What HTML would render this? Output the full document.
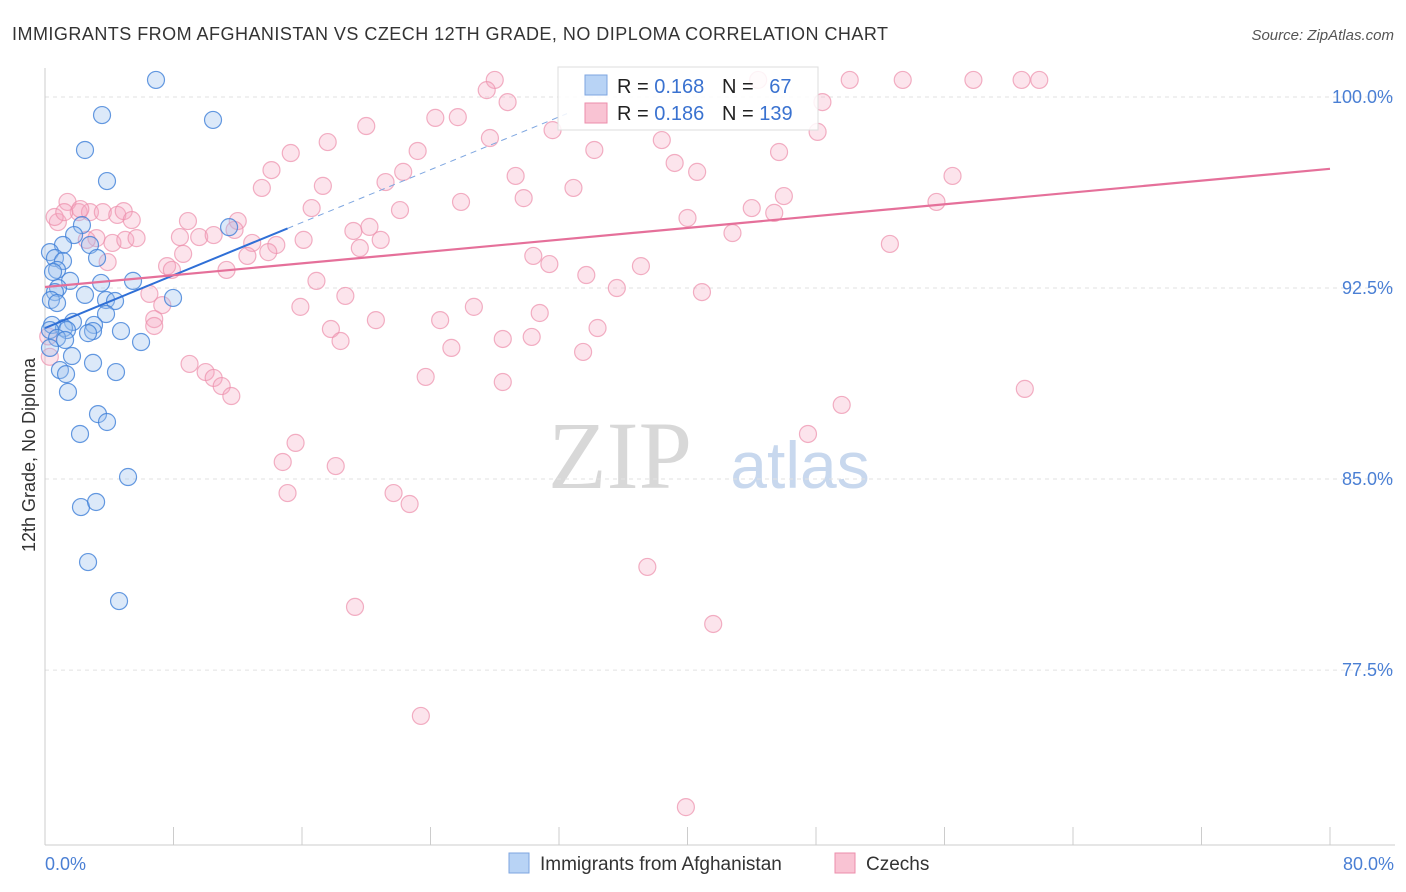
<!DOCTYPE html>
<html><head><meta charset="utf-8"><style>
body{margin:0;background:#fff;font-family:"Liberation Sans",sans-serif;}
#wrap{position:relative;width:1406px;height:892px;overflow:hidden;}
</style></head><body>
<div id="wrap">
<svg id="svg" width="1406" height="892" xmlns="http://www.w3.org/2000/svg">
<text x="12" y="40" font-size="18" fill="#333" textLength="876" lengthAdjust="spacing">IMMIGRANTS FROM AFGHANISTAN VS CZECH 12TH GRADE, NO DIPLOMA CORRELATION CHART</text>
<text x="1394" y="40" font-size="15" fill="#555" font-style="italic" text-anchor="end">Source: ZipAtlas.com</text>
<text x="620" y="488" font-size="96" fill="#d8d8d8" font-family="Liberation Serif,serif" text-anchor="middle">ZIP</text>
<text x="800" y="488" font-size="66" fill="#c8d8ee" text-anchor="middle">atlas</text>
<text transform="translate(35,455) rotate(-90)" font-size="18" fill="#333" text-anchor="middle">12th Grade, No Diploma</text>
<text x="45" y="870" font-size="18" fill="#4a7fd4">0.0%</text>
<text x="1394" y="870" font-size="18" fill="#4a7fd4" text-anchor="end">80.0%</text>
<g id="grid"></g><g id="pts"></g><g id="lines"></g>
<g>
<rect x="558" y="67" width="260" height="63" fill="#fff" fill-opacity="0.85" stroke="#ddd"/>
<rect x="585" y="75" width="22" height="20" fill="#b8d3f5" stroke="#7ea6e0"/>
<rect x="585" y="103" width="22" height="20" fill="#f9c3d3" stroke="#ec8eab"/>
<text x="617" y="93" font-size="20" fill="#222">R = <tspan fill="#3a72d0">0.168</tspan></text>
<text x="722" y="93" font-size="20" fill="#222">N = <tspan fill="#3a72d0" dx="10">67</tspan></text>
<text x="617" y="120" font-size="20" fill="#222">R = <tspan fill="#3a72d0">0.186</tspan></text>
<text x="722" y="120" font-size="20" fill="#222">N = <tspan fill="#3a72d0">139</tspan></text>
</g>
<g>
<rect x="509" y="853" width="20" height="20" fill="#b8d3f5" stroke="#7ea6e0"/>
<text x="540" y="870" font-size="19" fill="#333">Immigrants from Afghanistan</text>
<rect x="835" y="853" width="20" height="20" fill="#f9c3d3" stroke="#ec8eab"/>
<text x="866" y="870" font-size="19" fill="#333">Czechs</text>
</g>
</svg>
</div>
<script>
const yTicks=[100,92.5,85,77.5];
const yTickLabels=["100.0%","92.5%","85.0%","77.5%"];
const xTicks=[0,8,16,24,32,40,48,56,64,72,80];
const blueX=[6.91,3.55,10.46,2.49,3.86,2.30,11.46,1.81,1.12,2.80,0.31,3.24,0.62,1.12,0.75,0.50,1.56,5.48,3.49,0.81,2.49,0.62,0.37,7.97,3.80,4.36,0.75,3.80,0.44,1.74,3.05,1.18,0.31,4.73,2.99,2.68,1.37,0.75,5.98,1.25,0.31,1.68,2.99,0.93,4.42,1.31,1.43,3.30,3.86,2.18,5.17,2.24,3.18,2.68,4.61];
const blueY=[100.67,99.29,99.10,97.92,96.70,94.97,94.89,94.58,94.19,94.19,93.91,93.68,93.68,93.56,93.21,93.13,92.78,92.78,92.70,92.50,92.23,92.34,92.03,92.11,92.03,91.99,91.91,91.48,91.05,91.17,91.05,90.93,90.85,90.81,90.81,90.73,90.85,90.54,90.38,90.46,90.15,89.83,89.56,89.28,89.20,89.12,88.42,87.55,87.24,86.77,85.08,83.90,84.10,81.74,80.21];
const pinkX=[28.0,50.1,53.4,57.8,60.8,61.9,44.4,27.5,28.8,48.4,20.0,25.7,24.3,31.6,27.7,48.1,34.2,38.4,45.7,15.3,23.2,17.6,14.1,22.3,21.2,29.3,40.6,39.2,56.5,13.5,17.3,32.9,46.0,29.8,25.9,22.1,44.0,45.4,40.0,55.5,16.6,8.9,12.0,19.2,20.2,11.8,9.6,10.5,8.4,16.1,20.9,42.8,52.6,14.4,12.9,12.6,13.9,19.6,30.4,31.4,37.1,11.3,7.6,7.9,8.6,33.7,16.9,35.6,40.9,6.5,18.7,15.9,26.7,7.3,30.8,6.8,20.6,24.6,6.8,34.4,17.8,18.4,28.5,30.3,25.3,33.5,9.0,10.0,10.5,11.0,11.6,23.7,28.5,61.0,49.6,47.5,15.6,14.8,18.1,15.1,21.7,22.7,37.5,19.3,41.6,23.4,39.9,0.8,1.4,2.1,2.8,3.6,4.5,4.9,5.4,2.2,3.2,4.2,5.0,5.7,3.9,2.6,0.6,1.2,0.2,0.3];
const pinkY=[100.67,100.67,100.67,100.67,100.67,100.67,100.67,100.27,99.80,99.80,98.86,99.21,99.18,98.70,98.39,98.63,97.92,98.31,97.84,97.80,97.88,98.23,97.13,97.06,96.66,96.90,97.06,97.41,96.90,96.43,96.51,96.43,96.11,96.03,95.88,95.56,95.64,95.45,95.25,95.88,95.64,95.13,95.13,94.74,94.90,94.78,94.50,94.58,94.50,94.39,94.39,94.66,94.23,94.19,94.27,93.76,93.91,94.07,93.76,93.44,93.36,93.21,93.36,93.21,93.84,93.01,92.78,92.50,92.34,92.27,92.19,91.76,91.76,91.83,91.52,91.28,91.24,91.24,91.01,90.93,90.89,90.42,90.50,90.58,90.15,89.99,89.52,89.20,88.97,88.65,88.26,89.01,88.81,88.54,87.91,86.77,86.42,85.67,85.51,84.45,84.45,84.02,81.55,79.98,79.31,75.70,72.12,95.09,95.88,95.48,95.48,95.48,95.37,95.52,95.17,95.60,94.46,94.27,94.39,94.46,93.52,94.39,95.29,95.48,90.6,89.8];
const blueTrend=[90.93,0.259];
const pinkTrend=[92.54,0.058];
const X0=45,X1=1330,YB=845;
const xs=v=>X0+(v/80)*(X1-X0);
const ys=v=>97+(100-v)*25.47;
const NS="http://www.w3.org/2000/svg";
function mk(tag,attrs,parent){const e=document.createElementNS(NS,tag);for(const k in attrs)e.setAttribute(k,attrs[k]);parent.appendChild(e);return e;}
const grid=document.getElementById('grid');
yTicks.forEach((t,i)=>{
  const l=mk('line',{x1:X0,x2:1395,y1:ys(t),y2:ys(t),stroke:'#e2e2e2','stroke-dasharray':'4,4'},grid);
  
  
  const tx=mk('text',{x:1393,y:ys(t)+6,'font-size':18,fill:'#4a7fd4','text-anchor':'end'},grid);
  tx.textContent=yTickLabels[i];
  
  
});
const ax=mk('line',{x1:X0,x2:X0,y1:68,y2:YB,stroke:'#ccc'},grid);


const bx=mk('line',{x1:X0,x2:1395,y1:YB,y2:YB,stroke:'#ccc'},grid);


xTicks.forEach(t=>{
  const l=mk('line',{x1:xs(t),x2:xs(t),y1:YB,y2:YB-18,stroke:'#ccc'},grid);
  
  
});
const pts=document.getElementById('pts');
pinkX.forEach((v,i)=>{
  const c=mk('circle',{cx:xs(v),cy:ys(pinkY[i]),r:8.5,fill:'#f4a6bf','fill-opacity':0.3,stroke:'#ec8eab','stroke-opacity':0.7,'stroke-width':1.2},pts);
  
  
});
blueX.forEach((v,i)=>{
  const c=mk('circle',{cx:xs(v),cy:ys(blueY[i]),r:8.5,fill:'#9cc0ee','fill-opacity':0.35,stroke:'#3f7fd8','stroke-opacity':0.8,'stroke-width':1.2},pts);
  
  
});
const lines=document.getElementById('lines');
const bEnd=15.1;
const bl=mk('line',{x1:xs(0),y1:ys(blueTrend[0]),x2:xs(bEnd),y2:ys(blueTrend[0]+blueTrend[1]*bEnd),stroke:'#2f6fd6','stroke-width':2},lines);


const bEnd2=32.5;
const bd=mk('line',{x1:xs(bEnd),y1:ys(blueTrend[0]+blueTrend[1]*bEnd),x2:xs(bEnd2),y2:ys(blueTrend[0]+blueTrend[1]*bEnd2),stroke:'#7ea6e0','stroke-width':1,'stroke-dasharray':'6,5'},lines);


const pl=mk('line',{x1:xs(0),y1:ys(pinkTrend[0]),x2:xs(80),y2:ys(pinkTrend[0]+pinkTrend[1]*80),stroke:'#e5709a','stroke-width':2.2},lines);


</script>
</body></html>
